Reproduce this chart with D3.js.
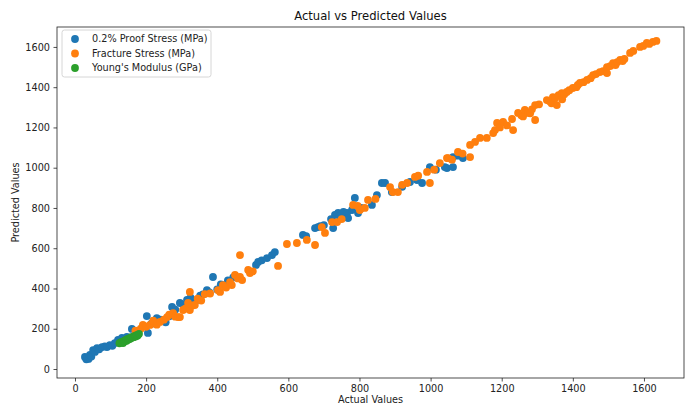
<!DOCTYPE html>
<html>
<head>
<meta charset="utf-8">
<script src="https://cdn.jsdelivr.net/npm/d3@7"></script>
<style>
  html, body { margin: 0; padding: 0; background: #fff; }
  svg { display: block; font-family: "DejaVu Sans", sans-serif; }
</style>
</head>
<body>
<svg id="chart" width="687" height="406"></svg>
<script>
// Actual vs predicted values for each target property: [actual, predicted]
const proofStress = [
  [28,60],[32,48],[34,55],[38,50],[40,58],[42,70],[46,62],[51,94],[56,85],[62,104],[68,98],[76,109],
  [84,112],[90,109],[98,119],[105,115],[112,129],[121,144],[128,140],[132,154],[140,148],[146,159],
  [152,150],[160,199],[202,263],[205,179],[215,225],[230,253],[240,245],[255,232],[265,262],[273,308],
  [282,295],[295,328],[305,320],[315,343],[325,355],[335,340],[343,343],[352,365],[360,370],[371,392],
  [378,380],[388,457],[400,395],[410,420],[422,417],[430,440],[445,455],[509,517],[515,532],[525,540],
  [540,551],[554,566],[562,581],[641,666],[650,660],[675,700],[683,705],[690,710],[700,715],[720,745],[726,700],[731,765],
  [740,775],[745,760],[750,770],[755,780],[765,775],[768,750],[779,790],[787,850],[796,775],[805,800],[835,815],[849,864],
  [863,924],[872,924],[891,879],[920,905],[942,929],[962,939],[976,924],[998,1003],[1015,990],[1046,998],
  [1040,1003],[1063,1003],[1063,1053],[1078,1060],[1091,1048]
];
const fractureStress = [
  [170,190],[185,200],[191,219],[200,210],[211,219],[220,240],[230,220],[239,234],[250,245],[259,258],
  [265,270],[276,278],[282,260],[290,258],[295,258],[304,293],[310,300],[318,328],[323,383],[323,293],
  [330,315],[337,318],[345,350],[355,340],[365,372],[380,375],[402,392],[408,383],[416,417],[425,405],
  [436,432],[441,417],[450,467],[458,450],[464,457],[464,566],[470,442],[487,492],[492,477],[500,485],
  [571,512],[596,621],[624,626],[652,641],[675,616],[694,705],[703,676],[723,730],[737,730],[750,745],
  [782,815],[795,810],[801,790],[815,800],[824,840],[845,845],[886,904],[894,879],[908,879],[920,915],
  [934,924],[956,954],[965,960],[990,979],[998,924],[1010,990],[1026,1023],[1046,1048],[1049,1048],[1060,1040],
  [1077,1078],[1090,1070],[1111,1053],[1111,1113],[1125,1128],[1139,1148],[1158,1148],[1176,1172],[1181,1187],[1187,1222],
  [1195,1200],[1204,1227],[1215,1210],[1229,1242],[1232,1187],[1246,1272],[1255,1260],[1260,1255],[1265,1287],[1274,1272],[1280,1270],[1285,1290],
  [1294,1311],[1294,1237],[1305,1315],[1327,1336],[1335,1330],[1340,1320],[1344,1351],[1350,1345],[1355,1311],[1360,1360],[1369,1371],[1370,1340],[1376,1365],
  [1383,1376],[1390,1385],[1400,1396],[1410,1400],[1414,1411],[1420,1421],[1430,1425],[1440,1436],[1450,1445],[1457,1460],
  [1465,1465],[1476,1475],[1485,1480],[1496,1500],[1496,1470],[1505,1505],[1513,1520],[1520,1510],[1525,1525],[1533,1535],
  [1540,1530],[1545,1540],[1561,1570],[1570,1580],[1589,1600],[1598,1605],[1608,1620],[1615,1615],[1625,1625],[1635,1630]
];
const youngsModulus = [
  [125,128],[128,132],[132,135],[135,129],[138,140],[140,138],[143,145],[145,140],[148,150],[150,147],
  [153,152],[155,150],[158,158],[160,155],[163,160],[165,158],[168,165],[170,162],[173,168],[175,165],
  [177,169],[180,175]
];

const seriesNames = ["0.2% Proof Stress (MPa)", "Fracture Stress (MPa)", "Young's Modulus (GPa)"];
const seriesColors = ["#1f77b4", "#ff7f0e", "#2ca02c"];
const xTicks = [0, 200, 400, 600, 800, 1000, 1200, 1400, 1600];
const yTicks = [0, 200, 400, 600, 800, 1000, 1200, 1400, 1600];

const titleText = "Actual vs Predicted Values";
const xLabel = "Actual Values";
const yLabel = "Predicted Values";

const allSeries = [proofStress, fractureStress, youngsModulus];

const svg = d3.select("#chart");
const plot = { left: 57, right: 684, top: 27, bottom: 378 };

const x = d3.scaleLinear().domain([-50.6, 1712.6]).range([plot.left, plot.right]);
const y = d3.scaleLinear().domain([-44.7, 1699]).range([plot.bottom, plot.top]);

// axes
const xAxis = d3.axisBottom(x).tickValues(xTicks).tickSize(3.5).tickPadding(3.5).tickFormat(d3.format("d"));
const yAxis = d3.axisLeft(y).tickValues(yTicks).tickSize(3.5).tickPadding(3.5).tickFormat(d3.format("d"));

const gx = svg.append("g").attr("transform", `translate(0,${plot.bottom})`).call(xAxis);
const gy = svg.append("g").attr("transform", `translate(${plot.left},0)`).call(yAxis);
[gx, gy].forEach(g => {
  g.select(".domain").remove();
  g.selectAll(".tick line").attr("stroke", "#222").attr("stroke-width", 0.8);
  g.selectAll(".tick text").attr("fill", "#222").style("font-size", "9.7px")
    .style("font-family", "'DejaVu Sans', sans-serif");
});

// points, one layer per series in drawing order
allSeries.forEach((data, i) => {
  svg.append("g").selectAll("circle").data(data).join("circle")
    .attr("cx", d => x(d[0]))
    .attr("cy", d => y(d[1]))
    .attr("r", 3.9)
    .attr("fill", seriesColors[i]);
});

// frame
svg.append("rect")
  .attr("x", plot.left).attr("y", plot.top)
  .attr("width", plot.right - plot.left).attr("height", plot.bottom - plot.top)
  .attr("fill", "none").attr("stroke", "#222").attr("stroke-width", 0.8);

// titles
svg.append("text").attr("x", (plot.left + plot.right) / 2).attr("y", 20)
  .attr("text-anchor", "middle").style("font-size", "11.6px").attr("fill", "#111").text(titleText);
svg.append("text").attr("x", (plot.left + plot.right) / 2).attr("y", 403)
  .attr("text-anchor", "middle").style("font-size", "9.7px").attr("fill", "#222").text(xLabel);
svg.append("text").attr("transform", `translate(19,${(plot.top + plot.bottom) / 2}) rotate(-90)`)
  .attr("text-anchor", "middle").style("font-size", "9.7px").attr("fill", "#222").text(yLabel);

// legend
const legend = svg.append("g").attr("transform", "translate(62,30)");
legend.append("rect").attr("width", 149).attr("height", 47).attr("rx", 2.5)
  .attr("fill", "#fff").attr("fill-opacity", 0.8).attr("stroke", "#ccc").attr("stroke-width", 0.8);
seriesNames.forEach((name, i) => {
  const row = legend.append("g").attr("transform", `translate(0,${9 + i * 14.5})`);
  row.append("circle").attr("cx", 13).attr("cy", 0).attr("r", 3.9).attr("fill", seriesColors[i]);
  row.append("text").attr("x", 30).attr("y", 0).attr("dy", "0.35em")
    .style("font-size", "9.7px").attr("fill", "#222").text(name);
});
</script>
</body>
</html>
